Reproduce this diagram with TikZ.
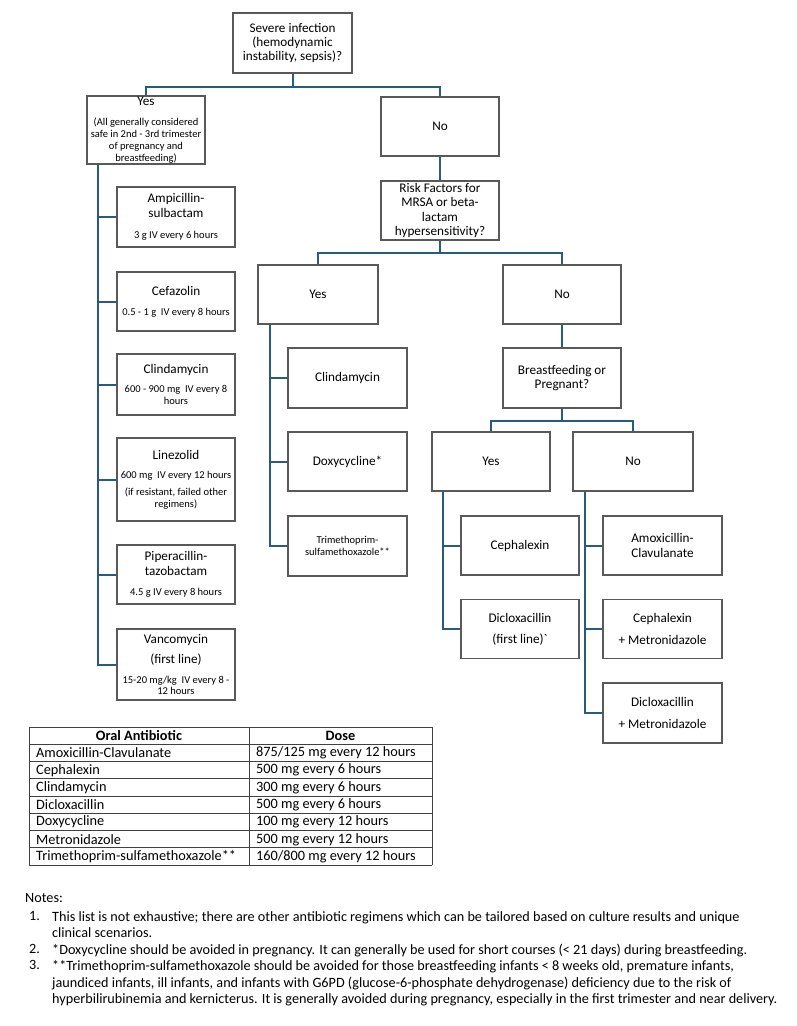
\documentclass[tikz,border=0pt]{standalone}
\usepackage{fontspec}
\setmainfont{Carlito}
\definecolor{linkteal}{RGB}{40,92,122}
\definecolor{boxgray}{RGB}{89,89,89}
\newcommand{\sm}{\fontsize{10.5}{12}\selectfont}
\newcommand{\bg}{\fontsize{13.2}{14.3}\selectfont}
\begin{document}
\begin{tikzpicture}[x=1pt,y=-1pt,
    box/.style={draw=boxgray, line width=1.3pt, fill=white, align=center, inner sep=1pt,
      minimum width=118, minimum height=59, font=\bg},
    dosebox/.style={box, font=\sm},
    link/.style={draw=linkteal, line width=2pt},
    cell/.style={anchor=west, inner sep=0pt, font=\fontsize{14.3}{16}\selectfont},
    note/.style={anchor=north west, inner sep=0pt, align=left, font=\fontsize{14.2}{16.5}\selectfont}]
    \useasboundingbox (0,0) rectangle (797,1026);
    \node[box, minimum width=119, minimum height=60] (severe) at (292.5,43) {Severe infection\\(hemodynamic\\instability, sepsis)?};
    \node[dosebox, minimum height=66] (sevYes) at (146,130) {\bg Yes\\[8pt](All generally considered\\safe in 2nd - 3rd trimester\\of pregnancy and\\breastfeeding)};
    \node[box] (sevNo) at (440,126.5) {No};
    \node[box] (risk) at (440,210.5) {Risk Factors for\\MRSA or beta-\\lactam\\hypersensitivity?};
    \node[dosebox, minimum height=60] (ampSul) at (176,217) {\bg Ampicillin-\\[3pt]\bg sulbactam\\[9pt]3 g IV every 6 hours};
    \node[dosebox] (cefaz) at (176,301.5) {\bg Cefazolin\\[8pt]0.5 - 1 g\ \ IV every 8 hours};
    \node[dosebox, minimum height=61] (clindaIV) at (176,384.5) {\bg Clindamycin\\[7pt]600 - 900 mg\ \ IV every 8\\hours};
    \node[dosebox, minimum height=83] (linez) at (176,479.5) {\bg Linezolid\\[7pt]600 mg\ \ IV every 12 hours\\[5pt](if resistant, failed other\\regimens)};
    \node[dosebox] (pipTazo) at (176,574.5) {\bg Piperacillin-\\[3pt]\bg tazobactam\\[8pt]4.5 g IV every 8 hours};
    \node[dosebox, minimum height=71] (vanco) at (176,664.5) {\bg Vancomycin\\[8pt]\bg (first line)\\[8pt]15-20 mg/kg\ \ IV every 8 -\\[-1pt]12 hours};
    \node[box, minimum width=120] (riskYes) at (318,294.5) {Yes};
    \node[box] (riskNo) at (562,294.5) {No};
    \node[box, minimum width=119, minimum height=60] (clindaPO) at (347.5,378) {Clindamycin};
    \node[box, minimum width=119] (doxy) at (347.5,461.5) {Doxycycline*};
    \node[dosebox, minimum width=119, minimum height=60] (tmpSmx) at (347.5,546) {Trimethoprim-\\sulfamethoxazole**};
    \node[box, minimum height=60] (preg) at (562,378) {Breastfeeding or\\Pregnant?};
    \node[box] (pregYes) at (491,461.5) {Yes};
    \node[box, minimum width=120] (pregNo) at (633,461.5) {No};
    \node[box] (cephPreg) at (520,545.5) {Cephalexin};
    \node[box] (dicloxPreg) at (520,629) {Dicloxacillin\\[7pt](first line)\textasciigrave};
    \node[box, minimum width=119] (amoxClav) at (662.5,545.5) {Amoxicillin-\\Clavulanate};
    \node[box, minimum width=119] (cephMet) at (662.5,629) {Cephalexin\\[7pt]+ Metronidazole};
    \node[box, minimum width=119, minimum height=60] (dicloxMet) at (662.5,713) {Dicloxacillin\\[7pt]+ Metronidazole};
    \draw[link] (severe.south) -- ++(0,13) -| (sevYes.north);
    \draw[link] (severe.south) -- ++(0,13) -| (sevNo.north);
    \draw[link] (sevNo.south) -- (risk.north);
    \draw[link] (risk.south) -- ++(0,12) -| (riskYes.north);
    \draw[link] (risk.south) -- ++(0,12) -| (riskNo.north);
    \draw[link] (riskNo.south) -- (preg.north);
    \draw[link] (preg.south) -- ++(0,12) -| (pregYes.north);
    \draw[link] (preg.south) -- ++(0,12) -| (pregNo.north);
    \foreach \d in {ampSul,cefaz,clindaIV,linez,pipTazo,vanco}
        \draw[link] (sevYes.south west) ++(12,0) |- (\d.west);
    \foreach \d in {clindaPO,doxy,tmpSmx}
        \draw[link] (riskYes.south west) ++(13,0) |- (\d.west);
    \foreach \d in {cephPreg,dicloxPreg}
        \draw[link] (pregYes.south west) ++(12,0) |- (\d.west);
    \foreach \d in {amoxClav,cephMet,dicloxMet}
        \draw[link] (pregNo.south west) ++(13,0) |- (\d.west);
    \foreach \y in {727,744,761.3,778.6,795.9,813.1,830.4,847.7,865}
        \draw[black!75, line width=0.8pt] (29,\y) -- (432,\y);
    \foreach \x in {29,249,432}
        \draw[black!75, line width=0.8pt] (\x,727) -- (\x,865);
    \node[cell, anchor=center, font=\fontsize{14.3}{16}\selectfont\bfseries] (headDrug) at (139,735.5) {Oral Antibiotic};
    \node[cell, anchor=center, font=\fontsize{14.3}{16}\selectfont\bfseries] (headDose) at (340.5,735.5) {Dose};
    \foreach \drug/\dose [count=\i] in {Amoxicillin-Clavulanate/875\slash125 mg every 12 hours,
        Cephalexin/500 mg every 6 hours, Clindamycin/300 mg every 6 hours,
        Dicloxacillin/500 mg every 6 hours, Doxycycline/100 mg every 12 hours,
        Metronidazole/500 mg every 12 hours, Trimethoprim-sulfamethoxazole**/160\slash800 mg every 12 hours} {
        \node[cell] (drug\i) at (36,{744+17.29*\i-8.4}) {\drug};
        \node[cell] (dose\i) at (256,{744+17.29*\i-8.4}) {\dose};
    }
    \node[note] (notesHead) at (25,893) {Notes:};
    \node[note] (num1) at (29,911) {1.};
    \node[note] (note1) at (52,911) {This list is not exhaustive; there are other antibiotic regimens which can be tailored based on culture results and unique\\clinical scenarios.};
    \node[note] (num2) at (29,944) {2.};
    \node[note] (note2) at (52,944) {*Doxycycline should be avoided in pregnancy. It can generally be used for short courses (< 21 days) during breastfeeding.};
    \node[note] (num3) at (29,960.5) {3.};
    \node[note] (note3) at (52,960.5) {**Trimethoprim-sulfamethoxazole should be avoided for those breastfeeding infants < 8 weeks old, premature infants,\\jaundiced infants, ill infants, and infants with G6PD (glucose-6-phosphate dehydrogenase) deficiency due to the risk of\\hyperbilirubinemia and kernicterus. It is generally avoided during pregnancy, especially in the first trimester and near delivery.};
\end{tikzpicture}
\end{document}
